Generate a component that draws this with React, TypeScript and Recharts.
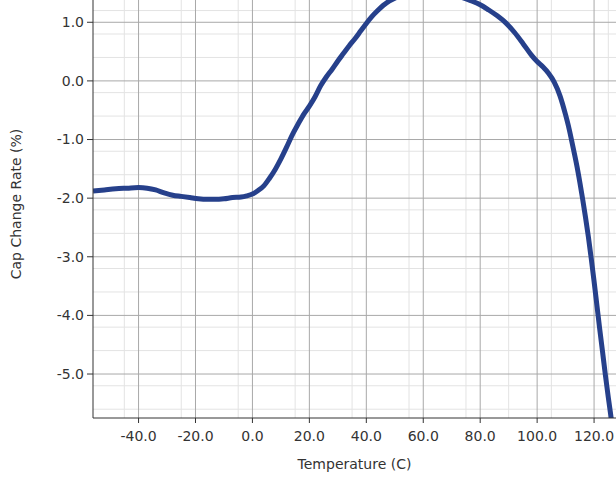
import React from 'react'
import {
  LineChart,
  Line,
  CartesianGrid,
  XAxis,
  YAxis,
  Label
} from 'recharts'

const temps = [
  -56, -52, -48, -44, -40, -37, -34, -31, -28, -25, -22, -19, -16, -13, -10,
  -7, -4, -2, 0, 2, 4, 6, 8, 10, 12, 14, 16, 18, 20, 22, 24, 26, 28, 30, 32,
  34, 36, 38, 40, 42, 44, 46, 48, 52, 56, 60, 64, 68, 72, 76, 80, 83, 86, 89,
  92, 95, 98, 100, 102, 104, 106, 108, 110, 111, 112, 113, 114, 115, 116, 117,
  118, 119, 120, 121, 122, 123, 124, 125, 126, 127
]

const capChange = [
  -1.88, -1.86, -1.84, -1.83, -1.82, -1.83, -1.86, -1.91, -1.95, -1.97, -1.99,
  -2.01, -2.02, -2.02, -2.01, -1.99, -1.98, -1.96, -1.93, -1.87, -1.79, -1.66,
  -1.51, -1.33, -1.13, -0.92, -0.74, -0.57, -0.43, -0.27, -0.08, 0.07, 0.2,
  0.34, 0.47, 0.6, 0.72, 0.85, 0.98, 1.1, 1.2, 1.29, 1.36, 1.45, 1.5, 1.52,
  1.52, 1.5, 1.45, 1.38, 1.3, 1.21, 1.11, 0.99, 0.83, 0.64, 0.44, 0.33, 0.24,
  0.13, -0.02, -0.25, -0.58, -0.77, -0.99, -1.22, -1.46, -1.73, -2.02, -2.33,
  -2.66, -3.03, -3.42, -3.83, -4.24, -4.63, -5.03, -5.4, -5.75, -6.1
]

const xTicks = [-40, -20, 0, 20, 40, 60, 80, 100, 120]
const yTicks = [-5, -4, -3, -2, -1, 0, 1]
const xMinor = [
  -55, -50, -45, -35, -30, -25, -15, -10, -5, 5, 10, 15, 25, 30, 35, 45, 50,
  55, 65, 70, 75, 85, 90, 95, 105, 110, 115, 125
]
const yMinor = [
  -5.6, -5.4, -5.2, -4.8, -4.6, -4.4, -4.2, -3.8, -3.6, -3.4, -3.2, -2.8,
  -2.6, -2.4, -2.2, -1.8, -1.6, -1.4, -1.2, -0.8, -0.6, -0.4, -0.2, 0.2, 0.4,
  0.6, 0.8, 1.2
]

const data = temps.map((t, i) => ({ t, v: capChange[i] }))

const FONT = '"DejaVu Sans", sans-serif'
const fmt = (v: number) => v.toFixed(1)

// axis label viewBox is the axis band, not the plot area
const XTitle = (props: any) => {
  const { x, y, width } = props.viewBox
  return (
    <text
      x={x + width / 2}
      y={y + 51}
      textAnchor='middle'
      fontFamily={FONT}
      fontSize={14}
      fill='#333'
    >
      Temperature (C)
    </text>
  )
}

const YTitle = (props: any) => {
  const { x, y, height } = props.viewBox
  const cx = x + 16
  const cy = y + height / 2 - 5
  return (
    <text
      x={cx}
      y={cy}
      transform={`rotate(-90 ${cx} ${cy})`}
      textAnchor='middle'
      dominantBaseline='central'
      fontFamily={FONT}
      fontSize={14}
      fill='#333'
    >
      Cap Change Rate (%)
    </text>
  )
}

export default function App() {
  return (
    <div style={{ position: 'absolute', left: 0, top: 0 }}>
      <LineChart
        width={616}
        height={478}
        data={data}
        margin={{ top: 0, right: 0, bottom: 0, left: 0 }}
      >
        <CartesianGrid
          stroke='#e3e3e3'
          verticalValues={xMinor}
          horizontalValues={yMinor}
        />
        <CartesianGrid
          stroke='#a8a8a8'
          verticalValues={xTicks}
          horizontalValues={yTicks}
        />
        <XAxis
          dataKey='t'
          type='number'
          domain={[-56, 127.7]}
          ticks={xTicks}
          tickFormatter={fmt}
          allowDataOverflow
          height={60}
          tickSize={5}
          tickMargin={8}
          stroke='#333'
          tick={{ fill: '#333', fontSize: 14, fontFamily: FONT }}
        >
          <Label content={XTitle} />
        </XAxis>
        <YAxis
          type='number'
          domain={[-5.75, 1.38]}
          ticks={yTicks}
          tickFormatter={fmt}
          allowDataOverflow
          width={93}
          tickSize={6}
          tickMargin={3}
          stroke='#333'
          tick={{ fill: '#333', fontSize: 14, fontFamily: FONT }}
        >
          <Label content={YTitle} />
        </YAxis>
        <Line
          dataKey='v'
          type='monotone'
          stroke='#26408b'
          strokeWidth={5}
          dot={false}
          isAnimationActive={false}
        />
      </LineChart>
    </div>
  )
}
